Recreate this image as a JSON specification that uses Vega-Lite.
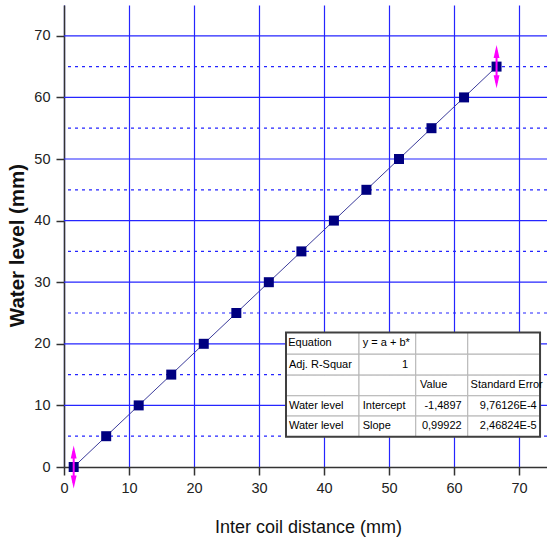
{
  "$schema": "https://vega.github.io/schema/vega-lite/v6.json",
  "width": 483,
  "height": 462,
  "autosize": {"type": "none"},
  "padding": {"left": 64, "top": 5, "right": 0, "bottom": 73},
  "background": "white",
  "config": {"view": {"stroke": null}},
  "datasets": {
    "pts": [
      {"x": 1.49, "y": 0}, {"x": 6.49, "y": 5}, {"x": 11.49, "y": 10}, {"x": 16.5, "y": 15},
      {"x": 21.5, "y": 20}, {"x": 26.51, "y": 25}, {"x": 31.51, "y": 30}, {"x": 36.52, "y": 35},
      {"x": 41.52, "y": 40}, {"x": 46.52, "y": 45}, {"x": 51.53, "y": 50}, {"x": 56.53, "y": 55},
      {"x": 61.54, "y": 60}, {"x": 66.54, "y": 65}
    ],
    "hsolid": [{"y": 10}, {"y": 20}, {"y": 30}, {"y": 40}, {"y": 50}, {"y": 60}, {"y": 70}],
    "hdash": [{"y": 5}, {"y": 15}, {"y": 25}, {"y": 35}, {"y": 45}, {"y": 55}, {"y": 65}],
    "err": [
      {"x": 1.49, "y": 0, "lo": -2.6, "hi": 2.6, "dn": -2.45, "up": 2.45},
      {"x": 66.54, "y": 65, "lo": 62.4, "hi": 67.6, "dn": 62.55, "up": 67.45}
    ],
    "cells": [
      {"x": 34.15, "xe": 45.38, "y": 21.83, "ye": 18.31}, {"x": 45.38, "xe": 54.11, "y": 21.83, "ye": 18.31},
      {"x": 54.11, "xe": 62.11, "y": 21.83, "ye": 18.31}, {"x": 62.11, "xe": 73.23, "y": 21.83, "ye": 18.31},
      {"x": 34.15, "xe": 45.38, "y": 18.31, "ye": 14.91}, {"x": 45.38, "xe": 54.11, "y": 18.31, "ye": 14.91},
      {"x": 54.11, "xe": 62.11, "y": 18.31, "ye": 14.91}, {"x": 62.11, "xe": 73.23, "y": 18.31, "ye": 14.91},
      {"x": 34.15, "xe": 45.38, "y": 14.91, "ye": 11.56}, {"x": 45.38, "xe": 54.11, "y": 14.91, "ye": 11.56},
      {"x": 54.11, "xe": 62.11, "y": 14.91, "ye": 11.56}, {"x": 62.11, "xe": 73.23, "y": 14.91, "ye": 11.56},
      {"x": 34.15, "xe": 45.38, "y": 11.56, "ye": 8.27}, {"x": 45.38, "xe": 54.11, "y": 11.56, "ye": 8.27},
      {"x": 54.11, "xe": 62.11, "y": 11.56, "ye": 8.27}, {"x": 62.11, "xe": 73.23, "y": 11.56, "ye": 8.27},
      {"x": 34.15, "xe": 45.38, "y": 8.27, "ye": 4.91}, {"x": 45.38, "xe": 54.11, "y": 8.27, "ye": 4.91},
      {"x": 54.11, "xe": 62.11, "y": 8.27, "ye": 4.91}, {"x": 62.11, "xe": 73.23, "y": 8.27, "ye": 4.91}
    ],
    "frame": [{"x": 34.15, "xe": 73.23, "y": 21.83, "ye": 4.91}],
    "tleft": [
      {"t": "Equation", "x": 34.5, "y": 20.07},
      {"t": "y = a + b*", "x": 45.95, "y": 20.07},
      {"t": "Adj. R-Squar", "x": 34.6, "y": 16.61},
      {"t": "Value", "x": 54.77, "y": 13.24},
      {"t": "Standard Error", "x": 62.55, "y": 13.24},
      {"t": "Water level", "x": 34.6, "y": 9.92},
      {"t": "Intercept", "x": 45.95, "y": 9.92},
      {"t": "Water level", "x": 34.6, "y": 6.59},
      {"t": "Slope", "x": 45.95, "y": 6.59}
    ],
    "tright": [
      {"t": "1", "x": 52.92, "y": 16.61},
      {"t": "-1,4897", "x": 61.18, "y": 9.92},
      {"t": "9,76126E-4", "x": 72.72, "y": 9.92},
      {"t": "0,99922", "x": 61.18, "y": 6.59},
      {"t": "2,46824E-5", "x": 72.72, "y": 6.59}
    ]
  },
  "layer": [
    {
      "data": {"name": "pts"},
      "mark": {"type": "point", "opacity": 0},
      "encoding": {
        "x": {
          "field": "x", "type": "quantitative",
          "scale": {"domain": [0, 74.3], "nice": false, "zero": false},
          "title": "Inter coil distance (mm)",
          "axis": {
            "values": [0, 5, 10, 15, 20, 25, 30, 35, 40, 45, 50, 55, 60, 65, 70],
            "labelExpr": "datum.value % 10 === 0 ? datum.label : ''",
            "labelFlush": false,
            "labelOverlap": false,
            "grid": true, "gridColor": "#2525ff", "gridWidth": 1.2,
            "domainColor": "#333333", "domainWidth": 1.5,
            "tickColor": "#333333", "tickWidth": 1.5, "tickSize": 8,
            "labelFont": "Liberation Sans, Arial, sans-serif",
            "labelFontSize": 14.5, "labelColor": "#222222", "labelPadding": 6,
            "titleFont": "Liberation Sans, Arial, sans-serif",
            "titleFontSize": 18, "titleFontWeight": "normal", "titleColor": "#111111",
            "titleX": 244, "titleY": 65, "titleAlign": "center", "titleBaseline": "alphabetic"
          }
        },
        "y": {
          "field": "y", "type": "quantitative",
          "scale": {"domain": [0, 75], "nice": false, "zero": false},
          "title": "Water level (mm)",
          "axis": {
            "values": [0, 5, 10, 15, 20, 25, 30, 35, 40, 45, 50, 55, 60, 65, 70],
            "labelExpr": "datum.value % 10 === 0 ? datum.label : ''",
            "labelFlush": false,
            "labelOverlap": false,
            "grid": false,
            "domainColor": "#333333", "domainWidth": 1.5,
            "tickColor": "#333333", "tickWidth": 1.5, "tickSize": 8,
            "labelFont": "Liberation Sans, Arial, sans-serif",
            "labelFontSize": 14.5, "labelColor": "#222222", "labelPadding": 6,
            "titleFont": "Liberation Sans, Arial, sans-serif",
            "titleFontSize": 20.5, "titleFontWeight": "bold", "titleColor": "#111111",
            "titleX": -47, "titleY": 240, "titleAngle": 270, "titleAlign": "center", "titleBaseline": "middle"
          }
        }
      }
    },
    {
      "data": {"name": "hsolid"},
      "mark": {"type": "rule", "color": "#2525ff", "strokeWidth": 1.2},
      "encoding": {"y": {"field": "y", "type": "quantitative", "title": "Water level (mm)"}}
    },
    {
      "data": {"name": "hdash"},
      "mark": {"type": "rule", "color": "#2525ff", "strokeWidth": 1.2, "strokeDash": [3, 4]},
      "encoding": {"y": {"field": "y", "type": "quantitative", "title": "Water level (mm)"}}
    },
    {
      "mark": {"type": "rule", "color": "#666666", "strokeWidth": 2},
      "encoding": {"y": {"datum": 75, "type": "quantitative", "title": "Water level (mm)"}}
    },
    {
      "data": {"name": "pts"},
      "mark": {"type": "line", "color": "#3b3b9b", "strokeWidth": 1},
      "encoding": {
        "x": {"field": "x", "type": "quantitative", "title": "Inter coil distance (mm)"},
        "y": {"field": "y", "type": "quantitative", "title": "Water level (mm)"}
      }
    },
    {
      "data": {"name": "pts"},
      "mark": {"type": "point", "shape": "square", "filled": true, "size": 100, "color": "#000080", "opacity": 1},
      "encoding": {
        "x": {"field": "x", "type": "quantitative", "title": "Inter coil distance (mm)"},
        "y": {"field": "y", "type": "quantitative", "title": "Water level (mm)"}
      }
    },
    {
      "data": {"name": "err"},
      "mark": {"type": "rule", "color": "#ff00ff", "strokeWidth": 2},
      "encoding": {
        "x": {"field": "x", "type": "quantitative", "title": "Inter coil distance (mm)"},
        "y": {"field": "lo", "type": "quantitative", "title": "Water level (mm)"},
        "y2": {"field": "hi"}
      }
    },
    {
      "data": {"name": "err"},
      "mark": {"type": "point", "shape": "M0,-1L0.45,1L-0.45,1Z", "filled": true, "size": 169, "color": "#ff00ff", "opacity": 1},
      "encoding": {
        "x": {"field": "x", "type": "quantitative", "title": "Inter coil distance (mm)"},
        "y": {"field": "up", "type": "quantitative", "title": "Water level (mm)"}
      }
    },
    {
      "data": {"name": "err"},
      "mark": {"type": "point", "shape": "M0,1L0.45,-1L-0.45,-1Z", "filled": true, "size": 169, "color": "#ff00ff", "opacity": 1},
      "encoding": {
        "x": {"field": "x", "type": "quantitative", "title": "Inter coil distance (mm)"},
        "y": {"field": "dn", "type": "quantitative", "title": "Water level (mm)"}
      }
    },
    {
      "data": {"name": "cells"},
      "mark": {"type": "rect", "fill": "white", "stroke": "#b4b4b4", "strokeWidth": 1},
      "encoding": {
        "x": {"field": "x", "type": "quantitative", "title": "Inter coil distance (mm)"},
        "x2": {"field": "xe"},
        "y": {"field": "y", "type": "quantitative", "title": "Water level (mm)"},
        "y2": {"field": "ye"}
      }
    },
    {
      "data": {"name": "frame"},
      "mark": {"type": "rect", "fillOpacity": 0, "stroke": "#404040", "strokeWidth": 2},
      "encoding": {
        "x": {"field": "x", "type": "quantitative", "title": "Inter coil distance (mm)"},
        "x2": {"field": "xe"},
        "y": {"field": "y", "type": "quantitative", "title": "Water level (mm)"},
        "y2": {"field": "ye"}
      }
    },
    {
      "data": {"name": "tleft"},
      "mark": {"type": "text", "align": "left", "baseline": "middle", "font": "Liberation Sans, Arial, sans-serif", "fontSize": 11, "color": "#000000"},
      "encoding": {
        "x": {"field": "x", "type": "quantitative", "title": "Inter coil distance (mm)"},
        "y": {"field": "y", "type": "quantitative", "title": "Water level (mm)"},
        "text": {"field": "t"}
      }
    },
    {
      "data": {"name": "tright"},
      "mark": {"type": "text", "align": "right", "baseline": "middle", "font": "Liberation Sans, Arial, sans-serif", "fontSize": 11, "color": "#000000"},
      "encoding": {
        "x": {"field": "x", "type": "quantitative", "title": "Inter coil distance (mm)"},
        "y": {"field": "y", "type": "quantitative", "title": "Water level (mm)"},
        "text": {"field": "t"}
      }
    }
  ]
}
